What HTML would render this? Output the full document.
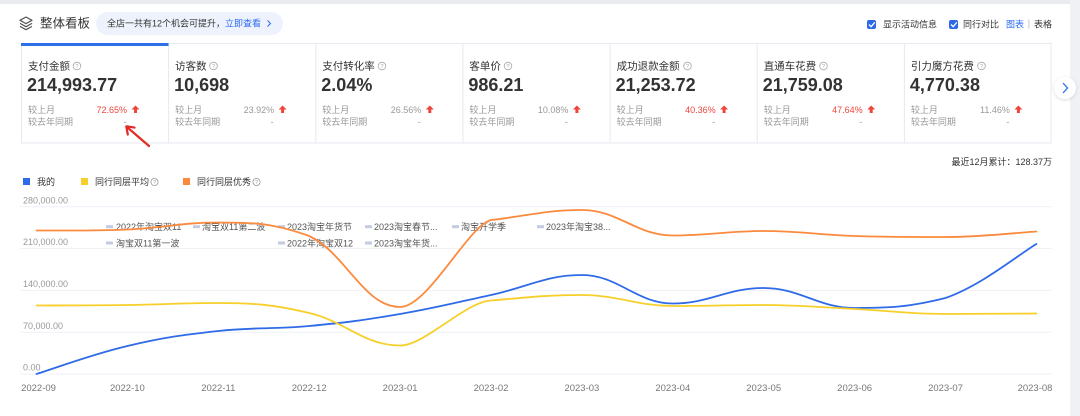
<!DOCTYPE html>
<html>
<head>
<meta charset="utf-8">
<style>
  html,body{margin:0;padding:0;background:#fff;}
  body{width:1080px;height:416px;overflow:hidden;position:relative;}
  svg{position:absolute;left:0;top:0;}
  text{font-family:"Liberation Sans","Noto Sans CJK SC",sans-serif;}
</style>
</head>
<body>
<svg width="1080" height="416" viewBox="0 0 1080 416" xmlns="http://www.w3.org/2000/svg">
  <defs>
    <filter id="sh" x="-50%" y="-50%" width="200%" height="200%">
      <feDropShadow dx="0" dy="1" stdDeviation="1.5" flood-color="#000" flood-opacity="0.15"/>
    </filter>
  </defs>
  <rect x="0" y="0" width="1080" height="4" fill="#e9ebef"/>
  <rect x="1070" y="0" width="10" height="416" fill="#eff1f5"/>

  <!-- header -->
  <g fill="none" stroke="#555" stroke-width="1.2" stroke-linejoin="round">
    <polygon points="26,17 32,20.3 26,23.6 20,20.3"/>
    <polyline points="20,23.4 26,26.7 32,23.4"/>
    <polyline points="20,26.4 26,29.7 32,26.4"/>
  </g>
  <text x="40" y="27.5" font-size="12.5" fill="#333">整体看板</text>
  <rect x="96" y="12" width="187" height="23" rx="11.5" fill="#edf2fd"/>
  <text x="107" y="26.5" font-size="9" fill="#333">全店一共有12个机会可提升，<tspan fill="#2d6cf0">立即查看</tspan></text>
  <polyline points="267.5,20.5 270.5,23.5 267.5,26.5" fill="none" stroke="#2d6cf0" stroke-width="1"/>

  <rect x="867" y="20" width="9" height="9" rx="2" fill="#2e6ae6"/>
  <polyline points="869,24.5 871.2,26.7 874.8,22.3" fill="none" stroke="#fff" stroke-width="1.3"/>
  <text x="883" y="27.5" font-size="9" fill="#333">显示活动信息</text>
  <rect x="949" y="20" width="9" height="9" rx="2" fill="#2e6ae6"/>
  <polyline points="951,24.5 953.2,26.7 956.8,22.3" fill="none" stroke="#fff" stroke-width="1.3"/>
  <text x="963" y="27.5" font-size="9" fill="#333">同行对比</text>
  <text x="1006" y="27.5" font-size="9" fill="#2d6cf0">图表</text>
  <rect x="1028.5" y="19.5" width="0.8" height="9" fill="#bbb"/>
  <text x="1034" y="27.5" font-size="9" fill="#333">表格</text>

  <!-- metric cards -->
  <g fill="none" stroke="#e6eaf1" stroke-width="1">
    <rect x="21.5" y="43.5" width="1029.5" height="99.5"/>
    <line x1="168.6" y1="43.5" x2="168.6" y2="143"/>
    <line x1="315.8" y1="43.5" x2="315.8" y2="143"/>
    <line x1="462.9" y1="43.5" x2="462.9" y2="143"/>
    <line x1="610.1" y1="43.5" x2="610.1" y2="143"/>
    <line x1="757.2" y1="43.5" x2="757.2" y2="143"/>
    <line x1="904.4" y1="43.5" x2="904.4" y2="143"/>
  </g>
  <rect x="21" y="43" width="147.5" height="3" fill="#2f6fe8"/>

  <g font-size="10.5" fill="#333">
    <text x="28" y="69.7">支付金额</text>
    <text x="175.1" y="69.7">访客数</text>
    <text x="322.3" y="69.7">支付转化率</text>
    <text x="469.4" y="69.7">客单价</text>
    <text x="616.6" y="69.7">成功退款金额</text>
    <text x="763.7" y="69.7">直通车花费</text>
    <text x="910.9" y="69.7">引力魔方花费</text>
  </g>
  <g fill="none" stroke="#aaa" stroke-width="0.8">
    <circle cx="77" cy="66" r="3.8"/>
    <circle cx="213.5" cy="66" r="3.8"/>
    <circle cx="382" cy="66" r="3.8"/>
    <circle cx="508" cy="66" r="3.8"/>
    <circle cx="687.5" cy="66" r="3.8"/>
    <circle cx="823.5" cy="66" r="3.8"/>
    <circle cx="981.5" cy="66" r="3.8"/>
  </g>
  <g font-size="5.5" fill="#aaa" text-anchor="middle">
    <text x="77" y="68">?</text>
    <text x="213.5" y="68">?</text>
    <text x="382" y="68">?</text>
    <text x="508" y="68">?</text>
    <text x="687.5" y="68">?</text>
    <text x="823.5" y="68">?</text>
    <text x="981.5" y="68">?</text>
  </g>
  <g font-size="18" font-weight="bold" fill="#333">
    <text x="27" y="91">214,993.77</text>
    <text x="174.1" y="91">10,698</text>
    <text x="321.3" y="91">2.04%</text>
    <text x="468.4" y="91">986.21</text>
    <text x="615.6" y="91">21,253.72</text>
    <text x="762.7" y="91">21,759.08</text>
    <text x="909.9" y="91">4,770.38</text>
  </g>
  <g font-size="9" fill="#999">
    <text x="28" y="113.2">较上月</text><text x="28" y="125.2">较去年同期</text>
    <text x="175.1" y="113.2">较上月</text><text x="175.1" y="125.2">较去年同期</text>
    <text x="322.3" y="113.2">较上月</text><text x="322.3" y="125.2">较去年同期</text>
    <text x="469.4" y="113.2">较上月</text><text x="469.4" y="125.2">较去年同期</text>
    <text x="616.6" y="113.2">较上月</text><text x="616.6" y="125.2">较去年同期</text>
    <text x="763.7" y="113.2">较上月</text><text x="763.7" y="125.2">较去年同期</text>
    <text x="910.9" y="113.2">较上月</text><text x="910.9" y="125.2">较去年同期</text>
  </g>
  <g font-size="9" text-anchor="end">
    <text x="127" y="113.2" fill="#f0453a">72.65%</text>
    <text x="274.1" y="113.2" fill="#999">23.92%</text>
    <text x="421.3" y="113.2" fill="#999">26.56%</text>
    <text x="568.4" y="113.2" fill="#999">10.08%</text>
    <text x="715.6" y="113.2" fill="#f0453a">40.36%</text>
    <text x="862.7" y="113.2" fill="#f0453a">47.64%</text>
    <text x="1009.9" y="113.2" fill="#999">11.46%</text>
  </g>
  <g fill="#f0453a">
    <polygon points="135.5,105.5 139.5,109.5 137,109.5 137,113 134,113 134,109.5 131.5,109.5"/>
    <polygon points="282.6,105.5 286.6,109.5 284.1,109.5 284.1,113 281.1,113 281.1,109.5 278.6,109.5"/>
    <polygon points="429.8,105.5 433.8,109.5 431.3,109.5 431.3,113 428.3,113 428.3,109.5 425.8,109.5"/>
    <polygon points="576.9,105.5 580.9,109.5 578.4,109.5 578.4,113 575.4,113 575.4,109.5 572.9,109.5"/>
    <polygon points="724.1,105.5 728.1,109.5 725.6,109.5 725.6,113 722.6,113 722.6,109.5 720.1,109.5"/>
    <polygon points="871.2,105.5 875.2,109.5 872.7,109.5 872.7,113 869.7,113 869.7,109.5 867.2,109.5"/>
    <polygon points="1018.4,105.5 1022.4,109.5 1019.9,109.5 1019.9,113 1016.9,113 1016.9,109.5 1014.4,109.5"/>
  </g>
  <g font-size="9" fill="#999" text-anchor="middle">
    <text x="125" y="125">-</text>
    <text x="272.1" y="125">-</text>
    <text x="419.3" y="125">-</text>
    <text x="566.4" y="125">-</text>
    <text x="713.6" y="125">-</text>
    <text x="860.7" y="125">-</text>
    <text x="1007.9" y="125">-</text>
  </g>

  <circle cx="1065" cy="88" r="11" fill="#fff" filter="url(#sh)"/>
  <polyline points="1063,83 1067.5,88 1063,93" fill="none" stroke="#2d6cf0" stroke-width="1.3"/>

  <g stroke="#e02b27" stroke-width="2.2" fill="none" stroke-linecap="round" stroke-linejoin="round">
    <line x1="149" y1="146" x2="127" y2="127"/>
    <polyline points="127.8,134.5 126.3,126.3 134.5,127.6"/>
  </g>

  <!-- chart header -->
  <text x="1052" y="165" font-size="9" fill="#333" text-anchor="end">最近12月累计：128.37万</text>
  <rect x="23" y="178" width="7" height="7" fill="#2f6be8"/>
  <text x="37" y="185.2" font-size="9" fill="#333">我的</text>
  <rect x="81" y="178" width="7" height="7" fill="#f5cf2c"/>
  <text x="95" y="185.2" font-size="9" fill="#333">同行同层平均</text>
  <circle cx="154.5" cy="182" r="3.6" fill="none" stroke="#999" stroke-width="0.8"/>
  <text x="154.5" y="184" font-size="5.5" fill="#999" text-anchor="middle">?</text>
  <rect x="183" y="178" width="7" height="7" fill="#fc8a3e"/>
  <text x="197" y="185.2" font-size="9" fill="#333">同行同层优秀</text>
  <circle cx="256.5" cy="182" r="3.6" fill="none" stroke="#999" stroke-width="0.8"/>
  <text x="256.5" y="184" font-size="5.5" fill="#999" text-anchor="middle">?</text>

  <!-- grid -->
  <g stroke="#eff1f7" stroke-width="1">
    <line x1="20" y1="206.7" x2="1052" y2="206.7"/>
    <line x1="20" y1="248.5" x2="1052" y2="248.5"/>
    <line x1="20" y1="290.4" x2="1052" y2="290.4"/>
    <line x1="20" y1="332.2" x2="1052" y2="332.2"/>
    <line x1="20" y1="374" x2="1052" y2="374"/>
  </g>
  <g font-size="9" fill="#999">
    <text x="23" y="203.3">280,000.00</text>
    <text x="23" y="245.1">210,000.00</text>
    <text x="23" y="287">140,000.00</text>
    <text x="23" y="328.8">70,000.00</text>
    <text x="23" y="370.6">0.00</text>
  </g>

  <!-- activity markers -->
  <g fill="#c3cbe0">
    <rect x="106" y="225.2" width="7" height="3"/>
    <rect x="193" y="225.2" width="7" height="3"/>
    <rect x="278" y="225.2" width="7" height="3"/>
    <rect x="365" y="225.2" width="7" height="3"/>
    <rect x="452" y="225.2" width="7" height="3"/>
    <rect x="537" y="225.2" width="7" height="3"/>
    <rect x="106" y="241.5" width="7" height="3"/>
    <rect x="278" y="241.5" width="7" height="3"/>
    <rect x="365" y="241.5" width="7" height="3"/>
  </g>
  <g font-size="9" fill="#555">
    <text x="116" y="230">2022年淘宝双11</text>
    <text x="202" y="230">淘宝双11第二波</text>
    <text x="287" y="230">2023淘宝年货节</text>
    <text x="374" y="230">2023淘宝春节...</text>
    <text x="461" y="230">淘宝开学季</text>
    <text x="546" y="230">2023年淘宝38...</text>
    <text x="116" y="246.3">淘宝双11第一波</text>
    <text x="287" y="246.3">2022年淘宝双12</text>
    <text x="374" y="246.3">2023淘宝年货...</text>
  </g>

  <!-- series -->
  <g fill="none" stroke-width="1.8" stroke-linecap="round" stroke-linejoin="round">
    <path stroke="#2f6be8" d="M36.5,374 C54.68,368.4 91.04,354.6 127.4,346 C163.76,337.4 181.94,335 218.3,331 C254.66,327 272.84,329.4 309.2,326 C345.56,322.6 363.74,320.2 400.1,314 C436.46,307.8 454.64,302.8 491,295 C527.36,287.2 545.54,275 581.9,275 C618.26,275 636.44,303.5 672.8,303.5 C709.16,303.5 727.34,288 763.7,288 C800.06,288 818.24,308 854.6,308 C890.96,308 909.14,307 945.5,298 C981.86,285.2 1018.22,254.8 1036.4,244"/>
    <path stroke="#f7cf2a" d="M36.5,305.5 C54.68,305.4 91.04,305.5 127.4,305 C163.76,304.5 181.94,303 218.3,303 C254.66,303 272.84,304.5 309.2,313 C345.56,321.5 363.74,345.5 400.1,345.5 C425,345.5 465,302 491,300.5 C527,297.5 545.54,295 581.9,295 C618.26,295 636.44,306 672.8,306 C709.16,306 727.34,305 763.7,305 C800.06,305 818.24,307.2 854.6,309 C890.96,310.8 909.14,314 945.5,314 C981.86,314 1018.22,313.6 1036.4,313.5"/>
    <path stroke="#fc8a3e" d="M36.5,230.5 C54.68,230.3 91.04,231.1 127.4,229.5 C163.76,227.9 181.94,222.5 218.3,222.5 C254.66,222.5 272.84,223 309.2,236 C345.56,252.9 363.74,307 400.1,307 C428,307 468,226 491,220 C527,216 545.54,210 581.9,210 C618.26,210 636.44,235.5 672.8,235.5 C709.16,235.5 727.34,231 763.7,231 C800.06,231 818.24,234.8 854.6,236 C890.96,237.2 909.14,237 945.5,237 C981.86,237 1018.22,232.6 1036.4,231.5"/>
  </g>

  <g font-size="9.5" fill="#777" text-anchor="middle">
    <text x="38.5" y="390.8">2022-09</text>
    <text x="127.4" y="390.8">2022-10</text>
    <text x="218.3" y="390.8">2022-11</text>
    <text x="309.2" y="390.8">2022-12</text>
    <text x="400.1" y="390.8">2023-01</text>
    <text x="491" y="390.8">2023-02</text>
    <text x="581.9" y="390.8">2023-03</text>
    <text x="672.8" y="390.8">2023-04</text>
    <text x="763.7" y="390.8">2023-05</text>
    <text x="854.6" y="390.8">2023-06</text>
    <text x="945.5" y="390.8">2023-07</text>
    <text x="1035" y="390.8">2023-08</text>
  </g>
</svg>
</body>
</html>
